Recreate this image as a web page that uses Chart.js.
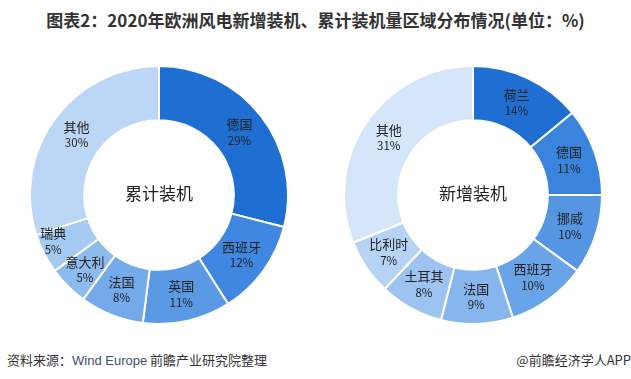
<!DOCTYPE html>
<html><head><meta charset="utf-8">
<script src="https://cdn.jsdelivr.net/npm/chart.js@4"></script>
<style>
html,body{margin:0;padding:0;background:#fff;width:631px;height:379px;overflow:hidden;font-family:"Noto Sans CJK SC","Noto Sans",sans-serif;}
#title{position:absolute;left:0;width:631px;top:8px;text-align:center;font-size:17px;font-weight:bold;color:#333;line-height:24px;}
.cv{position:absolute;}
#src{position:absolute;left:7px;top:350px;font-size:13px;color:#333;line-height:20px;}
#app{position:absolute;right:0px;top:350px;font-size:13px;color:#333;line-height:20px;}
</style></head>
<body>
<div id="title">图表2：2020年欧洲风电新增装机、累计装机量区域分布情况(单位：%)</div>
<canvas id="c1" class="cv" width="260" height="260" style="left:29px;top:65px;width:260px;height:260px"></canvas>
<canvas id="c2" class="cv" width="260" height="260" style="left:343px;top:65px;width:260px;height:260px"></canvas>
<div id="src">资料来源：<span style="color:#3d4f70;font-family:'Liberation Sans',Arial,sans-serif">Wind Europe</span> 前瞻产业研究院整理</div>
<div id="app">@前瞻经济学人APP</div>
<script>
const cumLabels = ["德国","西班牙","英国","法国","意大利","瑞典","其他"];
const cumValues = [29,12,11,8,5,5,30];
const cumColors = ["#1f6fd3","#3f87e0","#5a9ae5","#74aaea","#8ebbee","#a5caf2","#bcd6f6"];
const newLabels = ["荷兰","德国","挪威","西班牙","法国","土耳其","比利时","其他"];
const newValues = [14,11,10,10,9,8,7,31];
const newColors = ["#1f6fd3","#3a84de","#5596e3","#6aa4e8","#86b6ed","#9dc4f0","#b6d3f5","#d5e6fa"];

const labelPlugin = {
  id:'inlbl',
  afterDatasetsDraw(chart, args, opts){
    const ctx = chart.ctx;
    const meta = chart.getDatasetMeta(0);
    const ds = chart.data.datasets[0];
    const shift = opts.shift || {};
    ctx.save();
    ctx.textAlign='center';
    ctx.textBaseline='middle';
    ctx.fillStyle='#222';
    meta.data.forEach((arc,i)=>{
      const p = arc.tooltipPosition();
      const s = shift[i] || [0,0];
      const x = p.x + s[0], y = p.y + s[1];
      ctx.font='13px "Noto Sans CJK SC", sans-serif';
      ctx.fillText(chart.data.labels[i], x, y-8);
      ctx.font='11.5px "Noto Sans CJK SC", sans-serif';
      ctx.fillText(ds.data[i]+'%', x, y+8);
    });
    const c = meta.data[0];
    ctx.font='17px "Noto Sans CJK SC", sans-serif';
    ctx.fillText(opts.center, c.x, c.y-1);
    ctx.restore();
  }
};

function make(id, labels, values, colors, center, shift){
  new Chart(document.getElementById(id), {
    type:'doughnut',
    data:{labels:labels, datasets:[{data:values, backgroundColor:colors, borderColor:'#fff', borderWidth:2}]},
    options:{
      responsive:false, animation:false, cutout:'58%',
      layout:{padding:0},
      plugins:{legend:{display:false}, tooltip:{enabled:false}, inlbl:{center:center, shift:shift}}
    },
    plugins:[labelPlugin]
  });
}
make('c1', cumLabels, cumValues, cumColors, '累计装机', {4:[-2,3], 5:[-15,0]});
make('c2', newLabels, newValues, newColors, '新增装机', {});
</script>
</body></html>
